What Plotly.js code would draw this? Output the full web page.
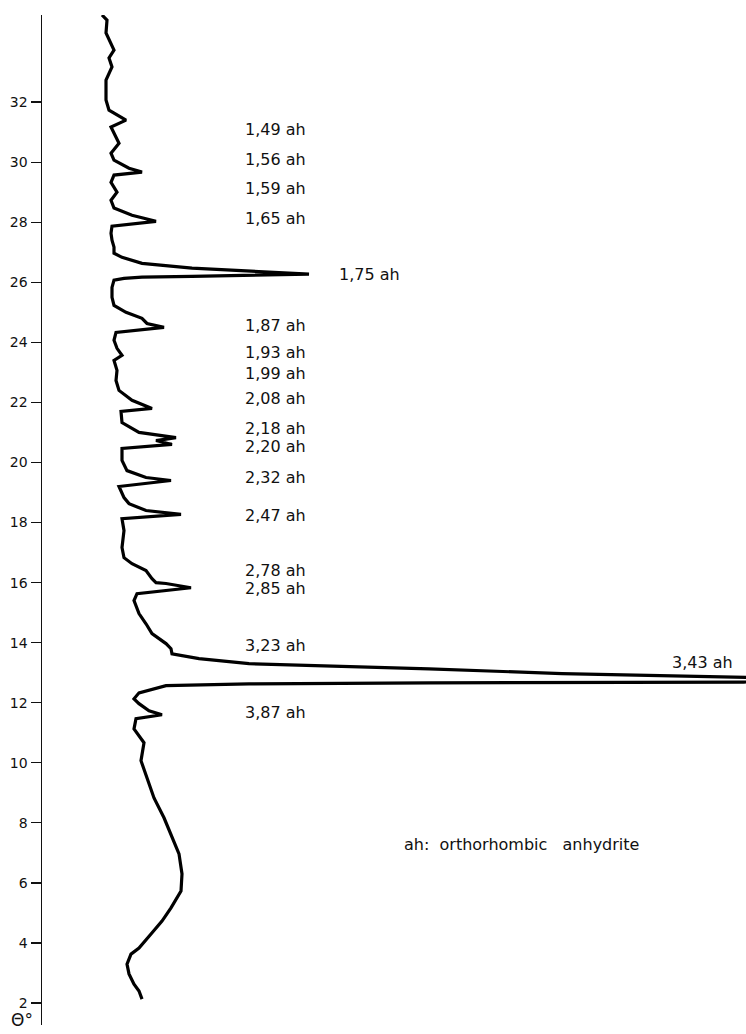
<!DOCTYPE html>
<html>
<head>
<meta charset="utf-8">
<script src="https://cdn.plot.ly/plotly-3.0.1.min.js"></script>
<style>html,body{margin:0;padding:0;background:#fff;}#chart{width:746px;height:1034px;}</style>
</head>
<body>
<div id="chart"></div>
<script>
// Diffraction angle theta (degrees), read top to bottom along the trace
const theta = [34.9, 34.73, 34.3, 33.73, 33.47, 33.17, 32.73, 32.07, 31.73, 31.4, 31.17, 30.83, 30.63, 30.3, 30.07, 29.8, 29.67, 29.57, 29.33, 29.0, 28.73, 28.47, 28.23, 28.03, 27.87, 27.63, 27.4, 27.17, 26.97, 26.83, 26.63, 26.47, 26.37, 26.27, 26.2, 26.17, 26.13, 26.07, 25.83, 25.5, 25.23, 25.0, 24.8, 24.63, 24.5, 24.33, 24.07, 23.8, 23.57, 23.4, 23.07, 22.73, 22.4, 22.07, 21.8, 21.7, 21.33, 21.0, 20.83, 20.73, 20.6, 20.47, 20.07, 19.73, 19.5, 19.4, 19.2, 18.83, 18.63, 18.4, 18.27, 18.13, 17.73, 17.17, 16.83, 16.63, 16.4, 16.13, 16.0, 15.97, 15.83, 15.63, 15.4, 14.97, 14.63, 14.3, 13.97, 13.8, 13.63, 13.47, 13.3, 13.13, 12.97, 12.83, 12.75, 12.69, 12.68, 12.66, 12.63, 12.57, 12.33, 12.13, 11.97, 11.73, 11.6, 11.47, 11.13, 10.67, 10.07, 9.5, 8.83, 8.17, 7.5, 6.97, 6.3, 5.73, 5.17, 4.73, 4.3, 3.83, 3.63, 3.3, 2.97, 2.63, 2.4, 2.13];
// Diffracted intensity (arbitrary units)
const intensity = [60, 65, 64, 72, 67, 70, 64, 64, 67, 84, 69, 74, 77, 69, 72, 87, 100, 72, 69, 75, 69, 72, 90, 114, 70, 69, 70, 72, 72, 80, 100, 150, 207, 267, 150, 100, 82, 72, 70, 70, 72, 84, 100, 105, 122, 74, 72, 75, 80, 72, 75, 74, 77, 90, 110, 79, 80, 97, 134, 114, 130, 80, 80, 85, 104, 129, 77, 82, 87, 104, 139, 80, 82, 80, 82, 90, 104, 110, 114, 124, 149, 95, 92, 97, 104, 110, 124, 129, 130, 157, 207, 387, 520, 702, 850, 702, 520, 387, 207, 124, 97, 92, 97, 107, 120, 94, 92, 102, 99, 105, 112, 122, 130, 137, 140, 139, 129, 120, 109, 97, 89, 85, 87, 92, 97, 100];

// Peak labels (d-spacing, phase) and the angle they sit at
const peakLabels = ["1,49 ah", "1,56 ah", "1,59 ah", "1,65 ah", "1,75 ah", "1,87 ah", "1,93 ah", "1,99 ah", "2,08 ah", "2,18 ah", "2,20 ah", "2,32 ah", "2,47 ah", "2,78 ah", "2,85 ah", "3,23 ah", "3,43 ah", "3,87 ah"];
const peakLabelTheta = [31.09, 30.10, 29.13, 28.13, 26.27, 24.55, 23.65, 22.95, 22.12, 21.12, 20.52, 19.49, 18.23, 16.40, 15.81, 13.91, 13.34, 11.68];

const yTickVals = [2, 4, 6, 8, 10, 12, 14, 16, 18, 20, 22, 24, 26, 28, 30, 32];
const yTickText = ["2", "4", "6", "8", "10", "12", "14", "16", "18", "20", "22", "24", "26", "28", "30", "32"];
const legendNote = "ah:  orthorhombic   anhydrite";
const legendTheta = 7.27;
const axisSymbol = "Θ°";

const labelFont = {family: "DejaVu Sans", size: 16, color: "#111"};
const annotations = peakLabels.map((t, i) => {
  let x = 201, anchor = "left";
  if (t === "1,75 ah") { x = 295; }
  if (t === "3,43 ah") { x = 693; anchor = "right"; }
  return {x: x, y: peakLabelTheta[i], xref: "x", yref: "y", text: t, showarrow: false,
          xanchor: anchor, yanchor: "middle", font: labelFont};
});
annotations.push({x: 360, y: legendTheta, xref: "x", yref: "y", text: legendNote, showarrow: false,
  xanchor: "left", yanchor: "middle", font: labelFont});
annotations.push({x: -20 / 704, y: 1.45, xref: "paper", yref: "y", text: axisSymbol, showarrow: false,
  xanchor: "center", yanchor: "middle", font: {family: "DejaVu Sans", size: 17, color: "#111"}});

const trace = {
  x: intensity, y: theta, type: "scatter", mode: "lines",
  line: {color: "#000", width: 3.2, shape: "linear"},
  hoverinfo: "skip"
};

const layout = {
  width: 746, height: 1034,
  margin: {l: 42, r: 0, t: 15, b: 9},
  paper_bgcolor: "#fff", plot_bgcolor: "#fff",
  showlegend: false,
  xaxis: {visible: false, range: [0, 704], fixedrange: true},
  yaxis: {
    range: [1.27, 34.9], showline: true, linecolor: "#111", linewidth: 1.5,
    ticks: "outside", ticklen: 10, tickwidth: 1.2, tickcolor: "#111",
    tickvals: yTickVals, ticktext: yTickText,
    tickfont: {family: "DejaVu Sans", size: 14, color: "#111"},
    showgrid: false, zeroline: false, fixedrange: true
  },
  annotations: annotations
};

Plotly.newPlot("chart", [trace], layout, {displayModeBar: false, staticPlot: true});
</script>
</body>
</html>
